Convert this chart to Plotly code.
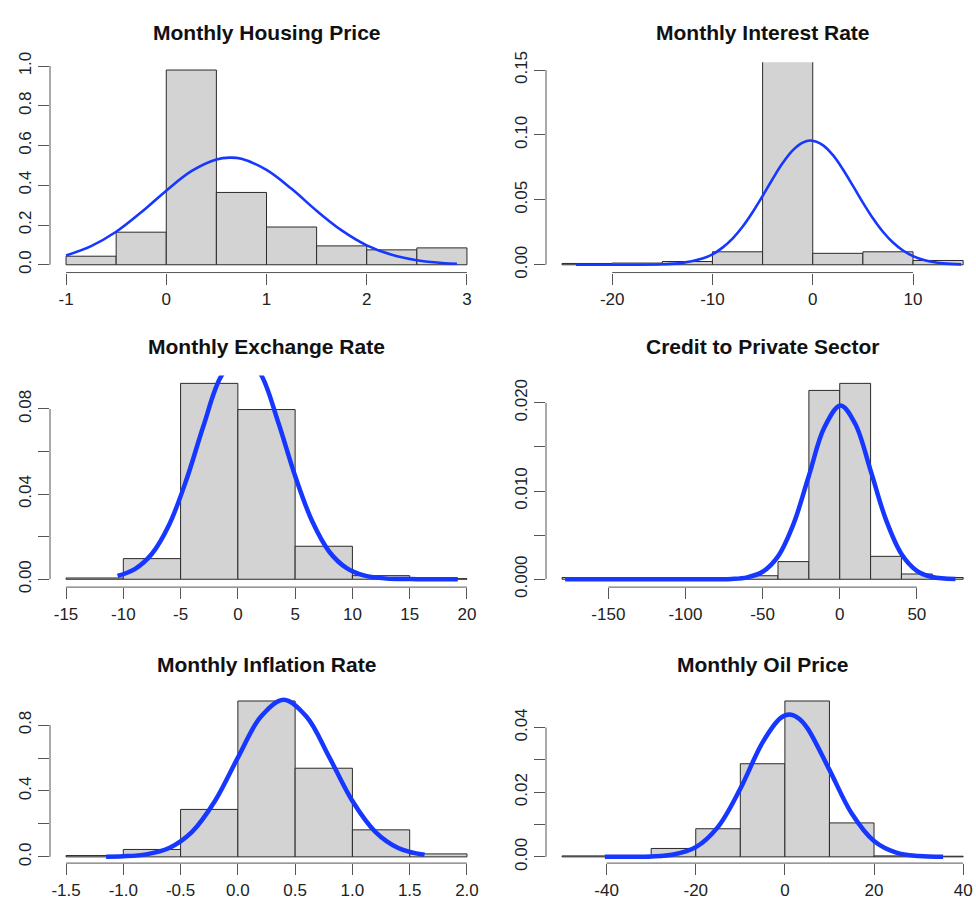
import plotly.graph_objects as go

# ---------------- data ----------------
titles = ["Monthly Housing Price", "Monthly Interest Rate",
          "Monthly Exchange Rate", "Credit to Private Sector",
          "Monthly Inflation Rate", "Monthly Oil Price"]

# 1 Housing price
hp_edges = [-1.0, -0.5, 0.0, 0.5, 1.0, 1.5, 2.0, 2.5, 3.0]
hp_density = [0.043, 0.164, 0.980, 0.364, 0.190, 0.095, 0.075, 0.085]
hp_curve_x = [-1.0, -0.75, -0.5, -0.25, 0.0, 0.25, 0.5, 0.635, 0.75, 1.0, 1.25, 1.5, 1.75, 2.0, 2.25, 2.5, 2.75, 2.9]
hp_curve_y = [0.047, 0.094, 0.166, 0.264, 0.373, 0.471, 0.530, 0.539, 0.533, 0.477, 0.382, 0.272, 0.173, 0.098, 0.050, 0.023, 0.009, 0.005]
hp_xticks = [-1, 0, 1, 2, 3]
hp_xlabels = ["-1", "0", "1", "2", "3"]
hp_yticks = [0.0, 0.2, 0.4, 0.6, 0.8, 1.0]
hp_ylabels = ["0.0", "0.2", "0.4", "0.6", "0.8", "1.0"]

# 2 Interest rate
ir_edges = [-25, -20, -15, -10, -5, 0, 5, 10, 15]
ir_density = [0.0010, 0.0013, 0.0025, 0.0100, 0.1631, 0.0088, 0.0100, 0.0033]
ir_curve_x = [-23.6, -20, -18, -15, -13, -11, -10, -9, -8, -7, -6, -5, -4, -3, -2, -1, -0.2,
              1, 2, 3, 4, 5, 6, 7, 8, 9, 10, 11, 12, 13, 14.8]
ir_curve_y = [0.0, 0.00001, 0.00003, 0.00035, 0.00145, 0.0048, 0.0080, 0.0132, 0.0202, 0.0293, 0.0405, 0.0530, 0.0661, 0.0783, 0.0881, 0.0941, 0.0957,
              0.0922, 0.0846, 0.0736, 0.0609, 0.0479, 0.0358, 0.0254, 0.0171, 0.0110, 0.0067, 0.0039, 0.0021, 0.0011, 0.0003]
ir_xticks = [-20, -10, 0, 10]
ir_xlabels = ["-20", "-10", "0", "10"]
ir_yticks = [0.0, 0.05, 0.10, 0.15]
ir_ylabels = ["0.00", "0.05", "0.10", "0.15"]
ir_ylim_top = 0.15

# 3 Exchange rate
ex_edges = [-15, -10, -5, 0, 5, 10, 15, 20]
ex_density = [0.0006, 0.0097, 0.0920, 0.0797, 0.0155, 0.0017, 0.0003]
ex_curve_x = [-10.5, -9, -7.5, -6, -4.5, -3, -1.5, 0.31, 2, 3.5, 5, 6.5, 8, 9.5, 11, 13, 15, 17, 19.2]
ex_curve_y = [0.0016, 0.0048, 0.0120, 0.0256, 0.0466, 0.0721, 0.0949, 0.1067, 0.0963, 0.0741, 0.0485, 0.0271, 0.0128, 0.0052, 0.0018, 0.0003, 0.0001, 0.0, 0.0]
ex_xticks = [-15, -10, -5, 0, 5, 10, 15, 20]
ex_xlabels = ["-15", "-10", "-5", "0", "5", "10", "15", "20"]
ex_yticks = [0.0, 0.02, 0.04, 0.06, 0.08]
ex_ylabels = ["0.00", "", "0.04", "", "0.08"]

# 4 Credit to private sector
cr_edges = [-180, -160, -140, -120, -100, -80, -60, -40, -20, 0, 20, 40, 60, 80]
cr_density = [0.0002, 0.0, 0.0, 0.0002, 0.0, 0.0002, 0.0004, 0.0020, 0.0214, 0.0222, 0.0026, 0.0006, 0.0002]
cr_curve_x = [-178, -150, -120, -100, -80, -70, -60, -50, -40, -30, -20, -10, 0.5, 10, 20, 30, 40, 50, 60, 75]
cr_curve_y = [0.0, 0.0, 0.0, 0.0, 0.00001, 0.00004, 0.00022, 0.00085, 0.0026, 0.00625, 0.01173, 0.01719, 0.0197, 0.01762, 0.01232, 0.00673, 0.00287, 0.00096, 0.00025, 0.00002]
cr_xticks = [-150, -100, -50, 0, 50]
cr_xlabels = ["-150", "-100", "-50", "0", "50"]
cr_yticks = [0.0, 0.005, 0.010, 0.015, 0.020]
cr_ylabels = ["0.000", "", "0.010", "", "0.020"]

# 5 Inflation rate
in_edges = [-1.5, -1.0, -0.5, 0.0, 0.5, 1.0, 1.5, 2.0]
in_density = [0.008, 0.045, 0.288, 0.946, 0.538, 0.164, 0.018]
in_curve_x = [-1.15, -1.0, -0.8, -0.6, -0.4, -0.2, 0.0, 0.2, 0.4, 0.6, 0.8, 1.0, 1.2, 1.4, 1.63]
in_curve_y = [0.001, 0.0035, 0.0153, 0.0541, 0.152, 0.339, 0.602, 0.850, 0.953, 0.850, 0.602, 0.339, 0.152, 0.0541, 0.0124]
in_xticks = [-1.5, -1.0, -0.5, 0.0, 0.5, 1.0, 1.5, 2.0]
in_xlabels = ["-1.5", "-1.0", "-0.5", "0.0", "0.5", "1.0", "1.5", "2.0"]
in_yticks = [0.0, 0.2, 0.4, 0.6, 0.8]
in_ylabels = ["0.0", "", "0.4", "", "0.8"]

# 6 Oil price
oi_edges = [-50, -40, -30, -20, -10, 0, 10, 20, 30, 40]
oi_density = [0.0003, 0.0002, 0.0026, 0.0087, 0.0288, 0.0482, 0.0105, 0.0003, 0.0002]
oi_curve_x = [-40.4, -35, -30, -25, -20, -15, -10, -5, -1, 1, 3, 5, 10, 15, 20, 25, 30, 35.5]
oi_curve_y = [0.0, 0.00002, 0.00013, 0.00072, 0.0030, 0.0093, 0.0211, 0.0354, 0.0429, 0.0440, 0.0429, 0.0399, 0.0269, 0.0134, 0.0049, 0.0013, 0.00026, 0.00003]
oi_xticks = [-40, -20, 0, 20, 40]
oi_xlabels = ["-40", "-20", "0", "20", "40"]
oi_yticks = [0.0, 0.01, 0.02, 0.03, 0.04]
oi_ylabels = ["0.00", "", "0.02", "", "0.04"]

panels = [
    dict(edges=hp_edges, dens=hp_density, cx=hp_curve_x, cy=hp_curve_y, xt=hp_xticks, xl=hp_xlabels, yt=hp_yticks, yl=hp_ylabels, ytop=None, lw=2.6),
    dict(edges=ir_edges, dens=ir_density, cx=ir_curve_x, cy=ir_curve_y, xt=ir_xticks, xl=ir_xlabels, yt=ir_yticks, yl=ir_ylabels, ytop=ir_ylim_top, lw=2.6),
    dict(edges=ex_edges, dens=ex_density, cx=ex_curve_x, cy=ex_curve_y, xt=ex_xticks, xl=ex_xlabels, yt=ex_yticks, yl=ex_ylabels, ytop=None, lw=4.5),
    dict(edges=cr_edges, dens=cr_density, cx=cr_curve_x, cy=cr_curve_y, xt=cr_xticks, xl=cr_xlabels, yt=cr_yticks, yl=cr_ylabels, ytop=None, lw=4.5),
    dict(edges=in_edges, dens=in_density, cx=in_curve_x, cy=in_curve_y, xt=in_xticks, xl=in_xlabels, yt=in_yticks, yl=in_ylabels, ytop=None, lw=4.5),
    dict(edges=oi_edges, dens=oi_density, cx=oi_curve_x, cy=oi_curve_y, xt=oi_xticks, xl=oi_xlabels, yt=oi_yticks, yl=oi_ylabels, ytop=None, lw=4.5),
]

# ---------------- layout geometry (pixels) ----------------
W, H = 976, 915
COLS = [(50.0, 483.0), (546.0, 979.2)]
ROWS = [(52.5, 268.0), (373.5, 590.3), (700.6, 873.1)]
TITLE_Y = [22.0, 344.0, 669.5]

FONT = "Liberation Sans, Arial, Helvetica, sans-serif"
BLUE = "#1637ff"
AXC = "#555555"

fig = go.Figure()
layout = dict(width=W, height=H, margin=dict(l=0, r=0, t=0, b=0),
              paper_bgcolor="white", plot_bgcolor="white", showlegend=False,
              shapes=[], annotations=[])

for i, p in enumerate(panels):
    k = i + 1
    r, c = divmod(i, 2)
    xa = "x" if k == 1 else f"x{k}"
    ya = "y" if k == 1 else f"y{k}"
    edges = p["edges"]
    lo, hi = edges[0], edges[-1]
    span = hi - lo
    xr0, xr1 = lo - 0.04 * span, hi + 0.04 * span
    px0, px1 = COLS[c]
    if px1 > W:
        frac = (W - px0) / (px1 - px0)
        xr1 = xr0 + frac * (xr1 - xr0)
        px1 = W
    ytop = p["ytop"] if p["ytop"] is not None else max(p["dens"])
    yr0, yr1 = -0.04 * ytop, 1.04 * ytop
    py0, py1 = ROWS[r]

    widths = [edges[j + 1] - edges[j] for j in range(len(edges) - 1)]
    fig.add_trace(go.Bar(x=edges[:-1], y=p["dens"], width=widths, offset=0,
                         marker=dict(color="#d3d3d3", line=dict(color="#2a2a2a", width=1)),
                         xaxis=xa, yaxis=ya, hoverinfo="skip"))
    fig.add_trace(go.Scatter(x=p["cx"], y=p["cy"], mode="lines",
                             line=dict(color=BLUE, width=p["lw"], shape="spline", smoothing=1.0),
                             xaxis=xa, yaxis=ya, hoverinfo="skip"))

    layout["xaxis" if k == 1 else f"xaxis{k}"] = dict(
        domain=[px0 / W, px1 / W], range=[xr0, xr1], anchor=ya,
        tickmode="array", tickvals=p["xt"], ticktext=p["xl"],
        ticks="outside", ticklen=11, tickwidth=1, tickcolor=AXC,
        showline=False, showgrid=False, zeroline=False,
        tickfont=dict(family=FONT, size=17, color="#222222"))
    layout["yaxis" if k == 1 else f"yaxis{k}"] = dict(
        domain=[1 - py1 / H, 1 - py0 / H], range=[yr0, yr1], anchor=xa,
        tickmode="array", tickvals=p["yt"], ticktext=p["yl"], tickangle=-90,
        ticks="outside", ticklen=11, tickwidth=1, tickcolor=AXC,
        showline=False, showgrid=False, zeroline=False,
        tickfont=dict(family=FONT, size=17, color="#222222"))

    # R-style axis lines spanning first..last tick
    layout["shapes"].append(dict(type="line", xref=xa, yref=f"{ya} domain",
                                 x0=p["xt"][0], x1=p["xt"][-1], y0=0, y1=0,
                                 line=dict(color=AXC, width=1)))
    layout["shapes"].append(dict(type="line", xref=f"{xa} domain", yref=ya,
                                 x0=0, x1=0, y0=p["yt"][0], y1=p["yt"][-1],
                                 line=dict(color=AXC, width=1)))
    layout["annotations"].append(dict(
        text=f"<b>{titles[i]}</b>", xref="paper", yref="paper",
        x=((COLS[c][0] + COLS[c][1]) / 2) / W, y=1 - TITLE_Y[r] / H,
        xanchor="center", yanchor="middle", showarrow=False,
        font=dict(family=FONT, size=21, color="#111111")))

fig.update_layout(**layout)
fig.write_html("out.html")
